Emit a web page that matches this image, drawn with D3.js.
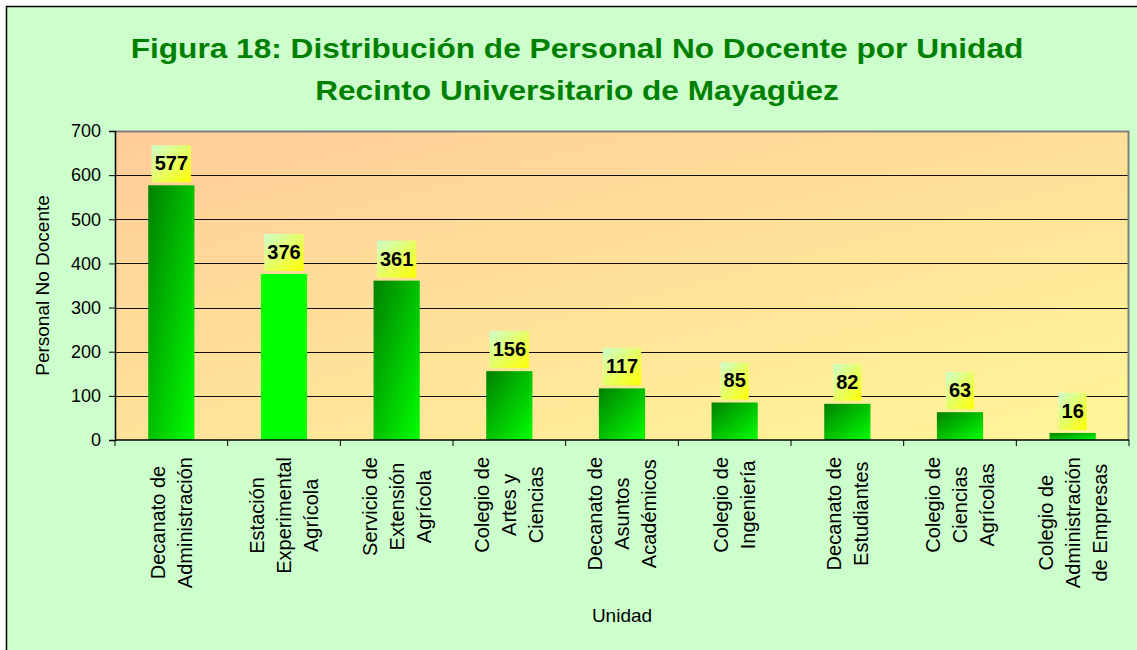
<!DOCTYPE html>
<html>
<head>
<meta charset="utf-8">
<script src="https://cdn.jsdelivr.net/npm/d3@7"></script>
<style>
  body { margin: 0; background: #fff; }
  text { font-family: Arial, "Liberation Sans", sans-serif; }
</style>
</head>
<body>
<div id="chart"></div>
<script>
// Data
const unidades = [
    ["Decanato de", "Administración"],
    ["Estación", "Experimental", "Agrícola"],
    ["Servicio de", "Extensión", "Agrícola"],
    ["Colegio de", "Artes y", "Ciencias"],
    ["Decanato de", "Asuntos", "Académicos"],
    ["Colegio de", "Ingeniería"],
    ["Decanato de", "Estudiantes"],
    ["Colegio de", "Ciencias", "Agrícolas"],
    ["Colegio de", "Administración", "de Empresas"]
];
const personal = [577, 376, 361, 156, 117, 85, 82, 63, 16];
const yTicks = [0, 100, 200, 300, 400, 500, 600, 700];
const titleLines = ["Figura 18: Distribución de Personal No Docente por Unidad",
                    "Recinto Universitario de Mayagüez"];

const W = 1137, H = 650;
const margin = {top: 131, right: 8, bottom: 210, left: 115};
const width = W - margin.left - margin.right,
      height = H - margin.top - margin.bottom;

const keys = unidades.map(d => d.join(" "));
const data = keys.map((k, i) => ({key: k, lines: unidades[i], value: personal[i]}));

const svg = d3.select("#chart")
    .append("svg")
    .attr("width", W)
    .attr("height", H);

// gradients
const defs = svg.append("defs");
function grad(id, c0, c1, attrs) {
    const g = defs.append("linearGradient").attr("id", id);
    Object.entries(attrs).forEach(([k, v]) => g.attr(k, v));
    g.append("stop").attr("offset", "0%").attr("stop-color", c0);
    g.append("stop").attr("offset", "100%").attr("stop-color", c1);
}
grad("plotBg", "#ffcc99", "#ffff99", {x1: 0, y1: 0, x2: 1.1, y2: 1.3});
grad("barFill", "#008000", "#00ff00", {x1: 0, y1: 0, x2: 1, y2: 1});
grad("labelFill", "#ccffcc", "#ffff00", {x1: 0, y1: 0, x2: 1, y2: 1});

// chart area background + frame
svg.append("rect")
    .attr("x", 6.5).attr("y", 6.5)
    .attr("width", W + 20).attr("height", H + 20)
    .attr("fill", "#ccffcc")
    .attr("stroke", "#000")
    .attr("stroke-width", 1.5);

// title (the original is a bit wider than Arial bold, so stretch it)
const titleX = 577;
svg.append("g")
    .attr("transform", `translate(${titleX},0) scale(1.13,1)`)
    .selectAll("text")
    .data(titleLines)
    .join("text")
    .attr("x", 0)
    .attr("y", (d, i) => 58 + i * 42)
    .attr("text-anchor", "middle")
    .attr("fill", "#008000")
    .attr("font-weight", "bold")
    .attr("font-size", 28)
    .text(d => d);

const g = svg.append("g")
    .attr("transform", "translate(" + margin.left + "," + margin.top + ")");

const x = d3.scaleBand()
    .domain(keys)
    .range([0, width])
    .paddingInner(0.59)
    .paddingOuter(0.295);

const y = d3.scaleLinear()
    .domain([0, 700])
    .range([height, 0]);

// plot background
g.append("rect")
    .attr("width", width)
    .attr("height", height)
    .attr("fill", "url(#plotBg)");

// gridlines
g.append("g")
    .selectAll("line")
    .data(yTicks.filter(t => t > 0 && t < 700))
    .join("line")
    .attr("x1", 0).attr("x2", width)
    .attr("y1", d => Math.round(y(d)) + 0.5)
    .attr("y2", d => Math.round(y(d)) + 0.5)
    .attr("stroke", "#111");

// plot border top/right
g.append("path")
    .attr("d", `M0,0.5H${width - 0.5}V${height}`)
    .attr("fill", "none")
    .attr("stroke", "#808080")
    .attr("stroke-width", 2);

// bars (second bar is drawn flat in the original)
g.append("g")
    .selectAll("rect")
    .data(data)
    .join("rect")
    .attr("x", d => x(d.key))
    .attr("y", d => y(d.value))
    .attr("width", x.bandwidth())
    .attr("height", d => height - y(d.value))
    .attr("fill", (d, i) => i === 1 ? "#00ff00" : "url(#barFill)");

// value labels with boxes
const lab = g.append("g")
    .selectAll("g")
    .data(data)
    .join("g")
    .attr("transform", d => `translate(${x(d.key) + x.bandwidth() / 2},${y(d.value) - 3})`);
lab.append("rect").attr("class", "box");
lab.append("text")
    .attr("y", -12)
    .attr("text-anchor", "middle")
    .attr("font-weight", "bold")
    .attr("font-size", 20)
    .attr("fill", "#000")
    .text(d => d.value);
lab.each(function() {
    const t = d3.select(this).select("text").node();
    const w = t.getComputedTextLength() + 6;
    d3.select(this).select("rect")
        .attr("x", -w / 2).attr("y", -37)
        .attr("width", w).attr("height", 37)
        .attr("fill", "url(#labelFill)");
});

// y axis
const yAxis = g.append("g")
    .call(d3.axisLeft(y).tickValues(yTicks).tickSize(6).tickPadding(8));
yAxis.select(".domain").attr("stroke", "#000").attr("stroke-width", 1.5);
yAxis.selectAll("line").attr("stroke", "#000");
yAxis.selectAll("text")
    .attr("font-size", 18)
    .attr("font-family", "Arial, 'Liberation Sans', sans-serif")
    .attr("fill", "#000");

// x axis (ticks at category boundaries)
const bounds = d3.range(keys.length + 1).map(i => i * x.step());
const xAxis = g.append("g").attr("transform", `translate(0,${height})`);
xAxis.append("line")
    .attr("x1", 0).attr("x2", width)
    .attr("stroke", "#000").attr("stroke-width", 1.5);
xAxis.selectAll(".tk")
    .data(bounds)
    .join("line")
    .attr("class", "tk")
    .attr("x1", d => d).attr("x2", d => d)
    .attr("y1", 0).attr("y2", 6)
    .attr("stroke", "#000");

// rotated multi-line category labels
const lineGap = 27;
const cats = xAxis.selectAll(".cat")
    .data(data)
    .join("g")
    .attr("class", "cat");
cats.each(function(d) {
    const sel = d3.select(this);
    const cx = x(d.key) + x.bandwidth() / 2;
    const n = d.lines.length;
    const texts = sel.selectAll("text")
        .data(d.lines)
        .join("text")
        .attr("font-size", 20)
        .attr("fill", "#000")
        .attr("text-anchor", "middle")
        .text(s => s);
    const maxLen = d3.max(texts.nodes(), nd => nd.getComputedTextLength());
    const cy = 17 + maxLen / 2;
    texts.attr("transform", (s, i) =>
        `translate(${cx + (i - (n - 1) / 2) * lineGap + 7},${cy}) rotate(-90)`);
});

// axis titles
g.append("text")
    .attr("x", width / 2)
    .attr("y", height + 182)
    .attr("text-anchor", "middle")
    .attr("font-size", 19)
    .text("Unidad");

g.append("text")
    .attr("transform", `translate(-66,${height / 2}) rotate(-90)`)
    .attr("text-anchor", "middle")
    .attr("font-size", 19)
    .text("Personal No Docente");
</script>
</body>
</html>
